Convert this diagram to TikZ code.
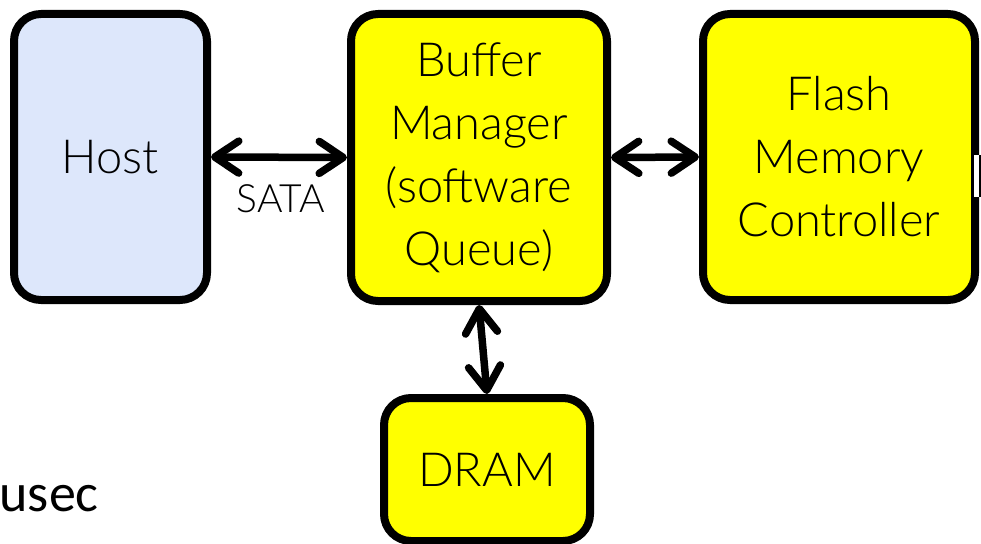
\documentclass[tikz,border=0pt]{standalone}
\usepackage{fontspec}
\setmainfont{Lato}[UprightFont=* Light]
\newfontfamily\calib{Carlito}
\usetikzlibrary{arrows.meta}
\definecolor{hostblue}{HTML}{DDE7FB}
\definecolor{boxyellow}{HTML}{FFFF00}
\tikzset{
  blk/.style={draw=black, line width=8pt, rounded corners=27pt, align=center,
    inner sep=0pt, font=\fontsize{47}{63}\selectfont},
  link/.style={line width=7.5pt, {Straight Barb[length=24pt,width=32pt,round]}-{Straight Barb[length=24pt,width=32pt,round]}}
}
\begin{document}
\begin{tikzpicture}[x=1pt,y=-1pt]
\useasboundingbox (0,0) rectangle (981,543);
\node[blk, fill=hostblue, minimum width=193pt, minimum height=286pt] (host) at (110.5,157) {Host};
\node[blk, fill=boxyellow, minimum width=256pt, minimum height=287pt] (buf) at (479,157.5) {Buffer\\Manager\\(software\\Queue)};
\node[blk, fill=boxyellow, minimum width=272pt, minimum height=286pt] (flash) at (839,157) {Flash\\Memory\\Controller};
\node[blk, fill=boxyellow, minimum width=206pt, minimum height=143pt] (dram) at (487,469.5) {DRAM};
\fill[white] (973.5,155) rectangle (978.5,197);
\fill[black] (978.5,155) rectangle (981,197);
\draw[link] (host.east) -- (buf.west);
\draw[link] (buf.east) -- (flash.west);
\draw[link] (buf.south) -- (dram.north);
\node[font=\fontsize{39}{44}\selectfont, anchor=base] (sata) at (281,212) {SATA};
\node[font=\calib\fontsize{54}{60}\selectfont, anchor=base east, inner sep=0pt] (usec) at (99,511) {usec};
\end{tikzpicture}
\end{document}
